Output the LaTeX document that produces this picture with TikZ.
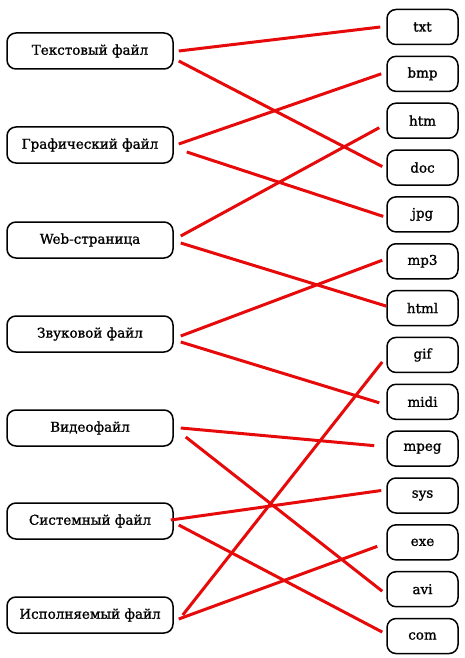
\documentclass[tikz,border=0pt]{standalone}
\usepackage{fontspec}
\setmainfont{DejaVu Serif}
\newfontfamily\boxfont{DejaVu Serif}[FakeBold=1.2]
\usetikzlibrary{calc}
\begin{document}
\begin{tikzpicture}[x=1pt,y=-1pt,
  lbox/.style={draw=black,line width=1.5pt,rounded corners=9pt,minimum width=166pt,minimum height=36pt,inner sep=0pt,font=\boxfont\fontsize{13.5}{15}\selectfont},
  rbox/.style={draw=black,line width=1.5pt,rounded corners=9pt,minimum width=71pt,minimum height=35pt,inner sep=0pt,font=\boxfont\fontsize{13.5}{15}\selectfont},
  link/.style={draw={rgb,255:red,230;green,10;blue,10},line width=3pt}]
\useasboundingbox (0,0) rectangle (464,658);
% left boxes
\node[lbox] (L1) at (90,51)  {Текстовый файл};
\node[lbox] (L2) at (90,145) {Графический файл};
\node[lbox] (L3) at (90,240) {Web-страница};
\node[lbox] (L4) at (90,334) {Звуковой файл};
\node[lbox] (L5) at (90,428) {Видеофайл};
\node[lbox] (L6) at (90,521) {Системный файл};
\node[lbox] (L7) at (90,615) {Исполняемый файл};
% right boxes
\foreach \n [count=\i from 0] in {txt,bmp,htm,doc,jpg,mp3,html,gif,midi,mpeg,sys,exe,avi,com}
  \node[rbox] (R\n) at (422.5,{27+46.85*\i}) {\n};
% connectors
\draw[link] ($(L1.east)+(5,0)$)   -- ($(Rtxt.west)+(-6,0)$);
\draw[link] ($(L1.east)+(5,10)$)  -- ($(Rdoc.west)+(-4,-1)$);
\draw[link] ($(L2.east)+(5,-1)$)  -- ($(Rbmp.west)+(-5,0)$);
\draw[link] ($(L2.east)+(13,7)$)  -- ($(Rjpg.west)+(-3,2)$);
\draw[link] ($(L3.east)+(7,-4)$)  -- ($(Rhtm.west)+(-7,7)$);
\draw[link] ($(L3.east)+(7,3)$)   -- ($(Rhtml.west)+(0,-2)$);
\draw[link] ($(L4.east)+(7,2)$)   -- ($(Rmp3.west)+(-4,-1)$);
\draw[link] ($(L4.east)+(7,8)$)   -- ($(Rmidi.west)+(-7,1)$);
\draw[link] ($(L5.east)+(7,0)$)   -- ($(Rmpeg.west)+(-12,-3)$);
\draw[link] ($(L5.east)+(12,9)$)  -- ($(Ravi.west)+(-4,2)$);
\draw[link] ($(L6.east)+(-3,-1)$) -- ($(Rsys.west)+(-5,-5)$);
\draw[link] ($(L6.east)+(5,4)$)   -- ($(Rcom.west)+(-4,-4)$);
\draw[link] ($(L7.east)+(9,0)$)   -- ($(Rgif.west)+(-4,7)$);
\draw[link] ($(L7.east)+(5,4)$)   -- ($(Rexe.west)+(-9,4)$);
\end{tikzpicture}
\end{document}
